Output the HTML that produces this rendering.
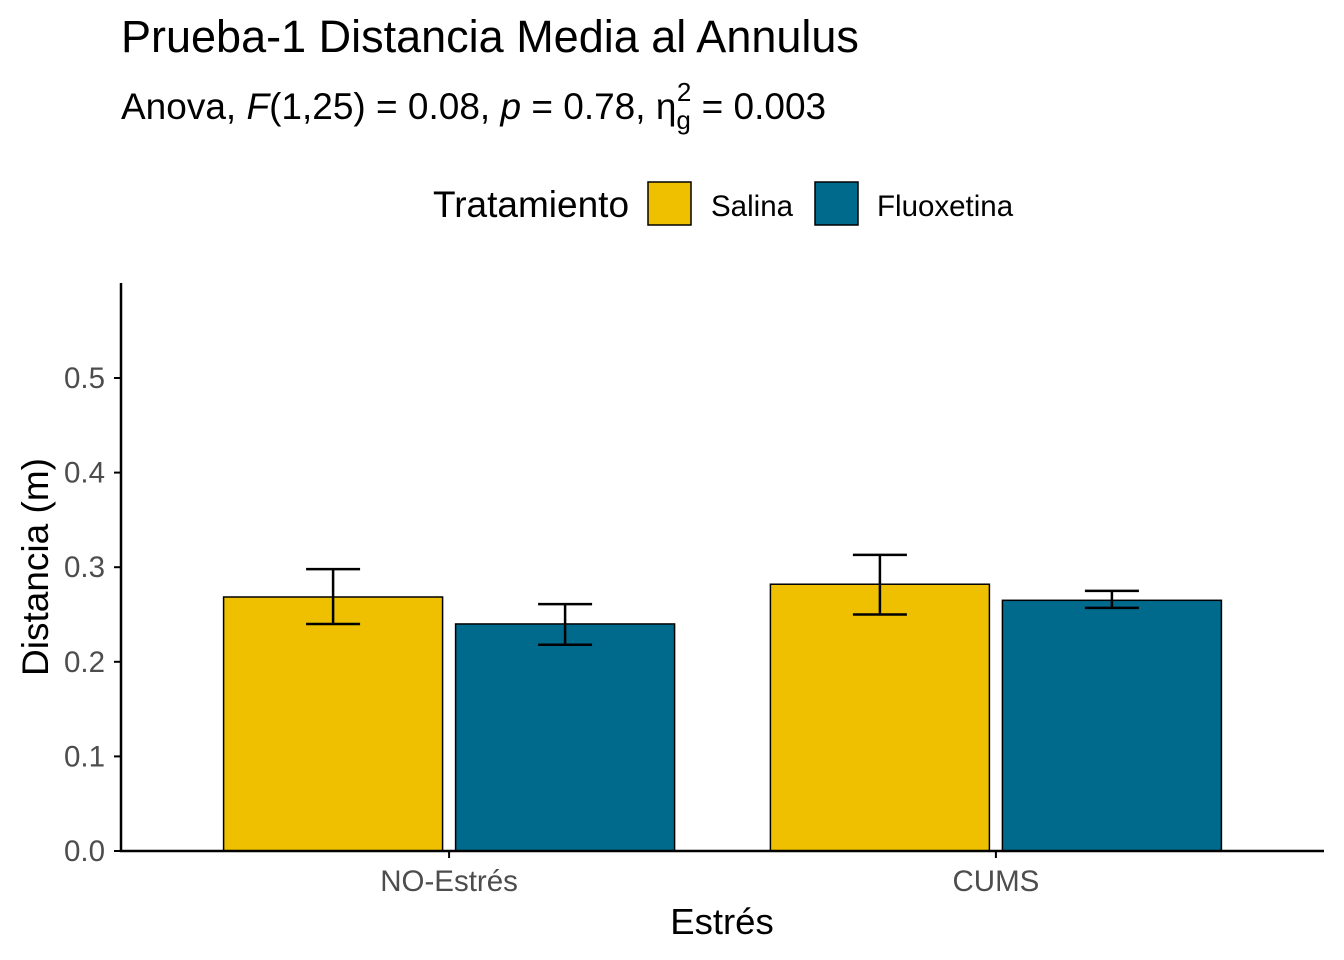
<!DOCTYPE html>
<html><head><meta charset="utf-8"><style>
body{margin:0;background:#fff;}
svg{display:block;font-family:"Liberation Sans",Arial,sans-serif;}
</style></head><body>
<svg id="c" width="1344" height="960">
<text x="121" y="52" font-size="45" fill="#000">Prueba-1 Distancia Media al Annulus</text>
<text x="121" y="119" font-size="37" fill="#000">Anova, <tspan font-style="italic">F</tspan>(1,25) = 0.08, <tspan font-style="italic">p</tspan> = 0.78, η<tspan dy="10" font-size="26">g</tspan><tspan dx="-14" dy="-28" font-size="26">2</tspan><tspan dy="18"> = 0.003</tspan></text>
<g>
<text x="433" y="217" font-size="37">Tratamiento</text>
<rect x="648" y="182" width="43" height="43" fill="#EFC000" stroke="#000" stroke-width="1.5"/>
<text x="711" y="216" font-size="29.5">Salina</text>
<rect x="815" y="182" width="43" height="43" fill="#006A8D" stroke="#000" stroke-width="1.5"/>
<text x="877" y="216" font-size="29.5">Fluoxetina</text>
</g>
<g id="plot"></g>
<text x="722" y="934" font-size="36.5" text-anchor="middle">Estrés</text>
<text transform="translate(48,567) rotate(-90)" font-size="37" text-anchor="middle">Distancia (m)</text>
</svg>
<script>
const categories=["NO-Estrés","CUMS"];
const seriesNames=["Salina","Fluoxetina"];
const colors=["#EFC000","#006A8D"];
const salina=[0.2685,0.282];
const fluoxetina=[0.240,0.265];
const salinaLo=[0.240,0.250];
const salinaHi=[0.298,0.313];
const fluoLo=[0.218,0.257];
const fluoHi=[0.261,0.275];
const yTicks=[0,0.1,0.2,0.3,0.4,0.5];
const yTickLabels=["0.0","0.1","0.2","0.3","0.4","0.5"];

const NS="http://www.w3.org/2000/svg";
const g=document.getElementById("plot");
const x0=121,x1=1324,y0=851,yTop=283;
const y=v=>y0-v*946;
const unit=(x1-x0)/(categories.length+0.2);
const cx=i=>x0+(i+0.6)*unit;
function mk(t,a){const e=document.createElementNS(NS,t);for(const k in a)e.setAttribute(k,a[k]);g.appendChild(e);return e;}
const vals=[salina,fluoxetina],lo=[salinaLo,fluoLo],hi=[salinaHi,fluoHi];
const bw=219,gap=13;
categories.forEach((c,i)=>{
 for(let s=0;s<2;s++){
  const bx=s===0?cx(i)-gap/2-bw:cx(i)+gap/2;
  const r=mk("rect",{x:bx,y:y(vals[s][i]),width:bw,height:y0-y(vals[s][i]),fill:colors[s],stroke:"#000","stroke-width":1.5});
  
  
  const m=bx+bw/2;
  const e=mk("path",{d:`M${m-27},${y(hi[s][i])}H${m+27}M${m},${y(hi[s][i])}V${y(lo[s][i])}M${m-27},${y(lo[s][i])}H${m+27}`,stroke:"#000","stroke-width":2.5,fill:"none"});
  
  
 }
 const t=mk("line",{x1:cx(i),x2:cx(i),y1:y0,y2:y0+7,stroke:"#000","stroke-width":2});
 
 
 const l=mk("text",{x:cx(i),y:891,"font-size":29.5,fill:"#4d4d4d","text-anchor":"middle"});
 l.textContent=c;
 
 
});
yTicks.forEach((v,i)=>{
 const t=mk("line",{x1:x0-7,x2:x0,y1:y(v),y2:y(v),stroke:"#000","stroke-width":2});
 
 
 const l=mk("text",{x:x0-16,y:y(v)+10,"font-size":29.5,fill:"#4d4d4d","text-anchor":"end"});
 l.textContent=yTickLabels[i];
 
 
});
const ax=mk("path",{d:`M${x0},${yTop}V${y0}H${x1}`,stroke:"#000","stroke-width":2.5,fill:"none"});


</script>
</body></html>
